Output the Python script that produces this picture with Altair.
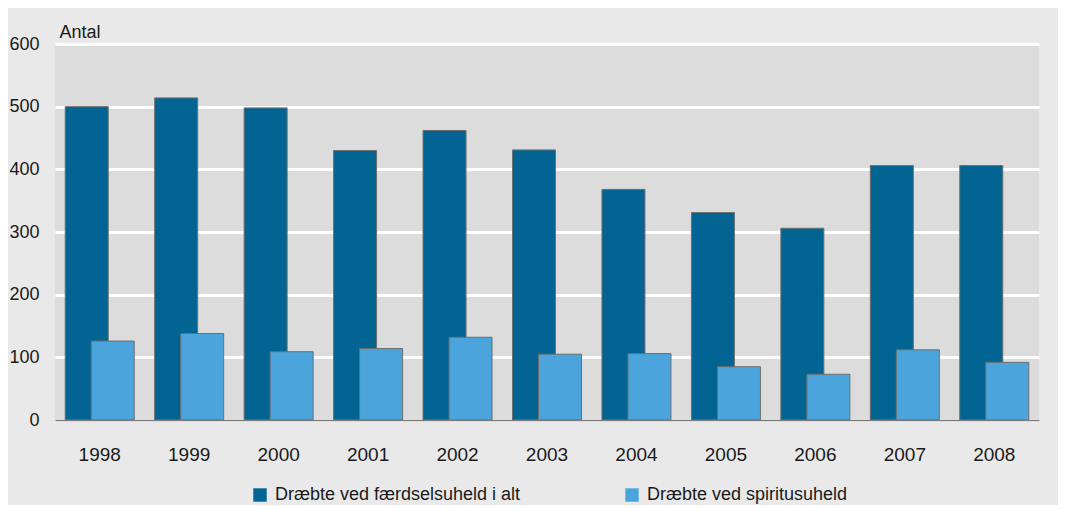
import altair as alt
import pandas as pd

years = ["1998", "1999", "2000", "2001", "2002", "2003", "2004", "2005", "2006", "2007", "2008"]
total = [500, 514, 498, 430, 462, 431, 368, 331, 306, 406, 406]
spirit = [126, 138, 109, 114, 132, 105, 106, 85, 73, 112, 92]
series = ["Dræbte ved færdselsuheld i alt", "Dræbte ved spiritusuheld"]
colors = ["#016493", "#4BA5DC"]

df = pd.DataFrame({
    "year": years * 2,
    "value": total + spirit,
    "series": [series[0]] * len(years) + [series[1]] * len(years),
})

x = alt.X("year:N", title=None, sort=years,
          scale=alt.Scale(paddingInner=0, paddingOuter=0),
          axis=alt.Axis(labelAngle=0, ticks=False, domain=True, domainColor="#7a7a7a",
                        domainWidth=1.5, labelFont="Liberation Sans", labelFontSize=19,
                        labelColor="#1a1a1a", labelPadding=25, grid=False, zindex=2))
y = alt.Y("value:Q", title="Antal",
          scale=alt.Scale(domain=[0, 600], nice=False),
          axis=alt.Axis(values=[0, 100, 200, 300, 400, 500, 600], ticks=False, domain=False,
                        grid=True, gridColor="#ffffff", gridWidth=3,
                        labelFont="Liberation Sans", labelFontSize=18, labelColor="#1a1a1a",
                        labelPadding=16, titleAngle=0, titleAlign="left",
                        titleBaseline="alphabetic", titleX=4, titleY=-7,
                        titleFont="Liberation Sans", titleFontSize=18,
                        titleFontWeight="normal", titleColor="#1a1a1a"))
color = alt.Color("series:N", title=None,
                  scale=alt.Scale(domain=series, range=colors),
                  legend=alt.Legend(orient="none", legendX=196, legendY=442,
                                    direction="horizontal", symbolType="square",
                                    symbolSize=180, symbolStrokeWidth=0, symbolOpacity=1,
                                    labelFont="Liberation Sans", labelFontSize=18,
                                    labelColor="#1a1a1a", labelLimit=400, labelOffset=6,
                                    columnPadding=102, padding=0))

base = alt.Chart(df).encode(x=x, y=y, color=color)

dark = base.transform_filter(alt.datum.series == series[0]).mark_bar(
    width=43, xOffset=-13, stroke="#6e6e6e", strokeWidth=1, opacity=1)
light = base.transform_filter(alt.datum.series == series[1]).mark_bar(
    width=43, xOffset=13, stroke="#6e6e6e", strokeWidth=1, opacity=1)

chart = alt.layer(dark, light).properties(
    width=984, height=376,
    autosize=alt.AutoSizeParams(type="none"),
    padding={"left": 47, "right": 19, "top": 36, "bottom": 85},
    background="#e9e9e9",
).configure_view(fill="#dcdcdc", stroke=None)

chart.save("out.html", embed_options={"renderer": "svg", "actions": False})
